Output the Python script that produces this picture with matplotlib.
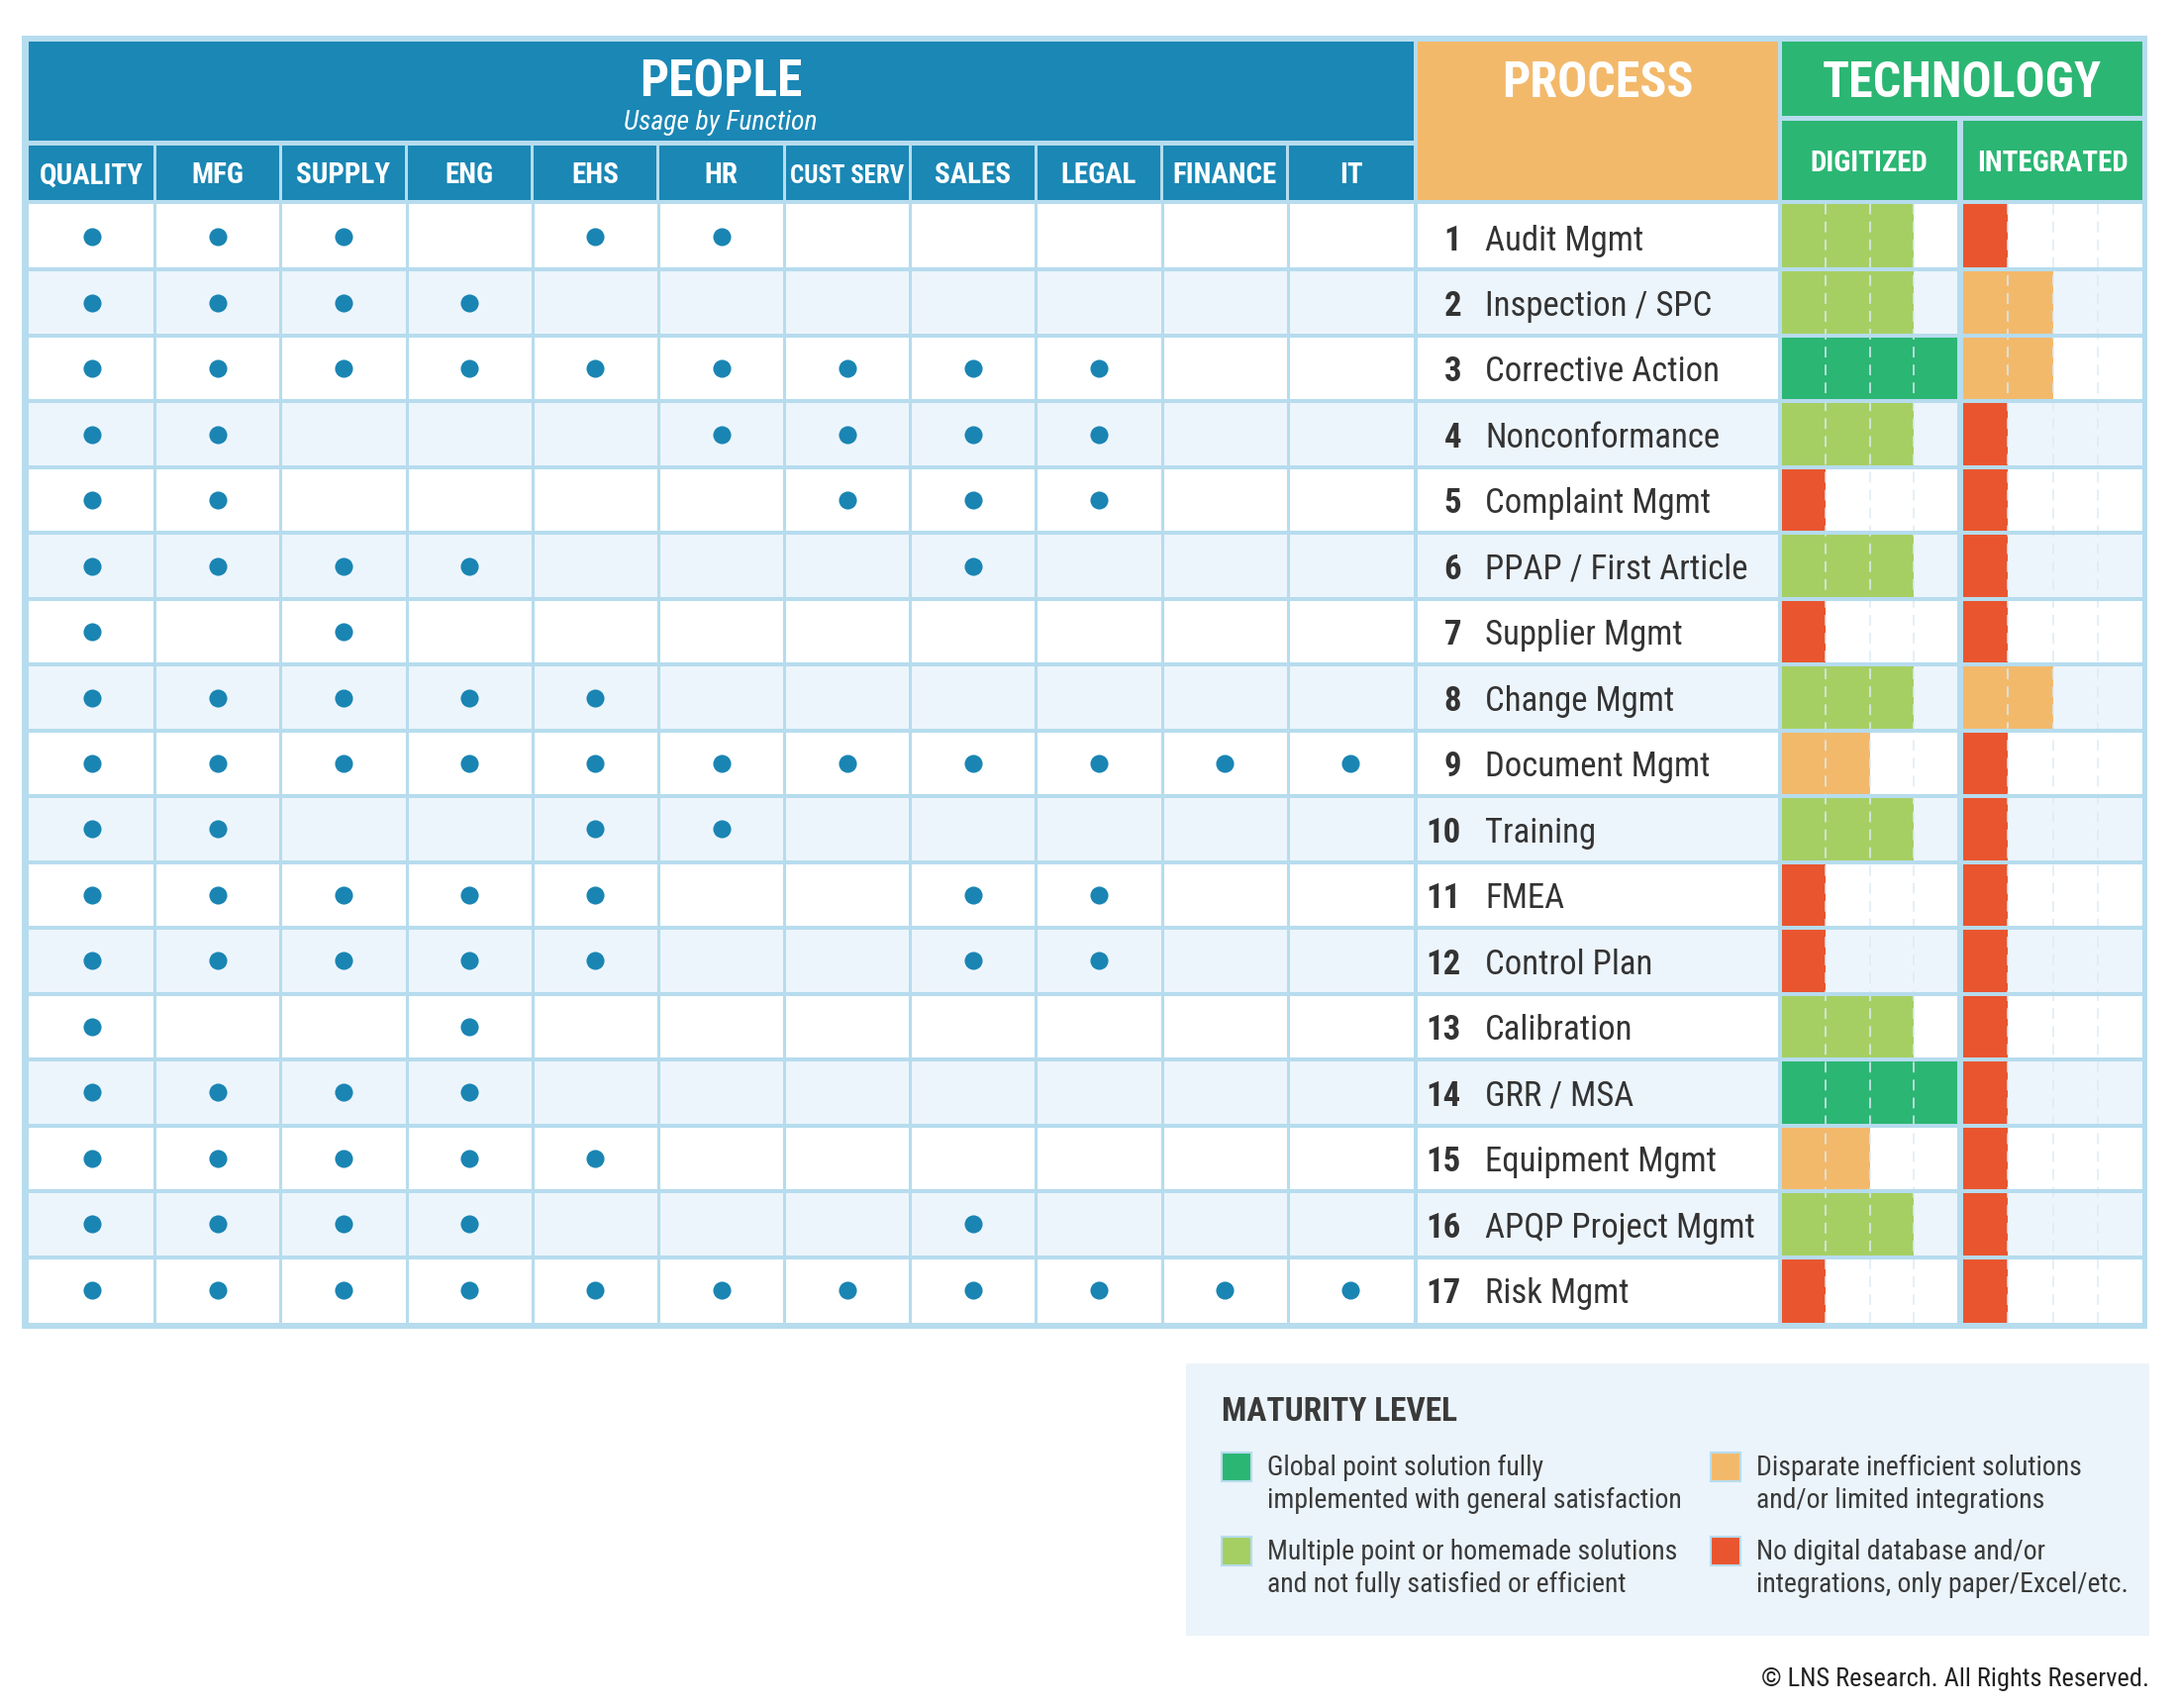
import os
import matplotlib
matplotlib.use('Agg')
import matplotlib.pyplot as plt
from matplotlib.patches import Rectangle
from matplotlib import font_manager as fm

# ====================== Data ======================
functions = ['QUALITY', 'MFG', 'SUPPLY', 'ENG', 'EHS', 'HR', 'CUST SERV', 'SALES', 'LEGAL', 'FINANCE', 'IT']
processes = ['Audit Mgmt', 'Inspection / SPC', 'Corrective Action', 'Nonconformance', 'Complaint Mgmt',
             'PPAP / First Article', 'Supplier Mgmt', 'Change Mgmt', 'Document Mgmt', 'Training', 'FMEA',
             'Control Plan', 'Calibration', 'GRR / MSA', 'Equipment Mgmt', 'APQP Project Mgmt', 'Risk Mgmt']
# 1 = function uses the process (dot)
usage = [
    [1, 1, 1, 0, 1, 1, 0, 0, 0, 0, 0],
    [1, 1, 1, 1, 0, 0, 0, 0, 0, 0, 0],
    [1, 1, 1, 1, 1, 1, 1, 1, 1, 0, 0],
    [1, 1, 0, 0, 0, 1, 1, 1, 1, 0, 0],
    [1, 1, 0, 0, 0, 0, 1, 1, 1, 0, 0],
    [1, 1, 1, 1, 0, 0, 0, 1, 0, 0, 0],
    [1, 0, 1, 0, 0, 0, 0, 0, 0, 0, 0],
    [1, 1, 1, 1, 1, 0, 0, 0, 0, 0, 0],
    [1, 1, 1, 1, 1, 1, 1, 1, 1, 1, 1],
    [1, 1, 0, 0, 1, 1, 0, 0, 0, 0, 0],
    [1, 1, 1, 1, 1, 0, 0, 1, 1, 0, 0],
    [1, 1, 1, 1, 1, 0, 0, 1, 1, 0, 0],
    [1, 0, 0, 1, 0, 0, 0, 0, 0, 0, 0],
    [1, 1, 1, 1, 0, 0, 0, 0, 0, 0, 0],
    [1, 1, 1, 1, 1, 0, 0, 0, 0, 0, 0],
    [1, 1, 1, 1, 0, 0, 0, 1, 0, 0, 0],
    [1, 1, 1, 1, 1, 1, 1, 1, 1, 1, 1],
]
# maturity level 1..4
digitized = [3, 3, 4, 3, 1, 3, 1, 3, 2, 3, 1, 1, 3, 4, 2, 3, 1]
integrated = [1, 2, 2, 1, 1, 1, 1, 2, 1, 1, 1, 1, 1, 1, 1, 1, 1]

legend_levels = [4, 2, 3, 1]
legend_labels = ['Global point solution fully\nimplemented with general satisfaction',
                 'Disparate inefficient solutions\nand/or limited integrations',
                 'Multiple point or homemade solutions\nand not fully satisfied or efficient',
                 'No digital database and/or\nintegrations, only paper/Excel/etc.']

# ====================== Style ======================
BLUE = '#1a87b5'
ORANGE = '#f3b96b'
GREEN = '#2bb673'
FRAME = '#b6dcee'
ROW_ALT = '#edf5fc'
DOT = '#1a85b3'
TEXT = '#333333'
level_colors = {1: '#e9552f', 2: '#f3b96b', 3: '#a6cf63', 4: '#2bb673'}

FAMILY_KEYS = ['robotocondensed', 'notosanscondensed', 'opensanscondensed',
               'liberationsansnarrow', 'dejavusanscondensed']


def weight_num(w):
    return w if isinstance(w, int) else fm.weight_dict.get(w, 400)


def pick_font(weight, style='normal'):
    # first condensed family found, closest weight
    for key in FAMILY_KEYS:
        found = []
        for f in fm.fontManager.ttflist:
            b = os.path.basename(f.fname).lower().replace('-', '').replace('_', '')
            if key in b and 'extra' not in b and 'semi' not in b:
                found.append((f.style != style, abs(weight_num(f.weight) - weight), f.fname))
        if found:
            return fm.FontProperties(fname=min(found)[2])
    return fm.FontProperties(family='DejaVu Sans', weight=weight, style=style)


F_BOLD = pick_font(700)
F_REG = pick_font(400)
F_ITAL = pick_font(400, 'italic')

W, H = 2200, 1725
fig = plt.figure(figsize=(22, 17.25), dpi=100)
base = fig.add_axes([0, 0, 1, 1])
base.set_xlim(0, W)
base.set_ylim(H, 0)
base.axis('off')


def place(x0, x1, y0, y1):
    ax = fig.add_axes([x0 / W, 1 - y1 / H, (x1 - x0) / W, (y1 - y0) / H])
    ax.axis('off')
    return ax


def txt(ax, x, y, s, size, font, **kw):
    kw.setdefault('color', 'white')
    kw.setdefault('ha', 'center')
    kw.setdefault('va', 'baseline')
    fp = font.copy()
    fp.set_size(size)
    ax.text(x, y, s, fontproperties=fp, **kw)


# ====================== Headers ======================
base.add_patch(Rectangle((22, 36), 2147, 1306, fc=FRAME, ec='none'))
base.add_patch(Rectangle((29, 42), 1399, 100, fc=BLUE, ec='none'))
txt(base, 728, 97, 'PEOPLE', 37, F_BOLD)
txt(base, 728, 131, 'Usage by Function', 20, F_ITAL)

col_w = (1428 - 29) / len(functions)
for k, name in enumerate(functions):
    x0 = 29 + k * col_w + (1.5 if k > 0 else 0)
    x1 = 29 + (k + 1) * col_w - (1.5 if k < len(functions) - 1 else 0)
    base.add_patch(Rectangle((x0, 147), x1 - x0, 55, fc=BLUE, ec='none'))
    txt(base, (x0 + x1) / 2, 185, name, 18 if len(name) > 8 else 21, F_BOLD)

base.add_patch(Rectangle((1432, 42), 364, 160, fc=ORANGE, ec='none'))
txt(base, 1614, 98, 'PROCESS', 36, F_BOLD)
base.add_patch(Rectangle((1800, 42), 364, 75, fc=GREEN, ec='none'))
txt(base, 1982, 98, 'TECHNOLOGY', 36, F_BOLD)
base.add_patch(Rectangle((1800, 122), 177, 80, fc=GREEN, ec='none'))
txt(base, 1888, 173, 'DIGITIZED', 21, F_BOLD)
base.add_patch(Rectangle((1983, 122), 181, 80, fc=GREEN, ec='none'))
txt(base, 2073.5, 173, 'INTEGRATED', 21, F_BOLD)

# ====================== Rows ======================
n = len(processes)
rows = list(range(n))
Y0, Y1 = 206, 1336


def rows_bg(ax):
    for i in rows:
        ax.axhspan(i - 0.5, i + 0.5, color=ROW_ALT if i % 2 else 'white', lw=0, zorder=0)
    for i in rows[:-1]:
        ax.axhline(i + 0.5, color=FRAME, lw=2.9, zorder=5)
    ax.set_ylim(n - 0.5, -0.5)


# People dots
ax_p = place(29, 1428, Y0, Y1)
rows_bg(ax_p)
for k in range(len(functions) - 1):
    ax_p.axvline(k + 0.5, color=FRAME, lw=2.2, zorder=5)
xs = [c for r in rows for c in range(len(functions)) if usage[r][c]]
ys = [r for r in rows for c in range(len(functions)) if usage[r][c]]
ax_p.scatter(xs, ys, s=170, color=DOT, lw=0, zorder=6)
ax_p.set_xlim(-0.5, len(functions) - 0.5)

# Process labels
ax_t = place(1432, 1796, Y0, Y1)
rows_bg(ax_t)
ax_t.set_xlim(0, 364)
for i, name in enumerate(processes):
    txt(ax_t, 44, i + 0.2, str(i + 1), 25, F_BOLD, color=TEXT, ha='right')
    txt(ax_t, 68, i + 0.2, name, 25, F_REG, color=TEXT, ha='left')

# Technology bars
for (x0, x1), vals in [((1800, 1977), digitized), ((1983, 2164), integrated)]:
    ax = place(x0, x1, Y0, Y1)
    rows_bg(ax)
    ax.barh(rows, vals, height=1.0, left=0, color=[level_colors[v] for v in vals], lw=0, zorder=2)
    for g in (1, 2, 3):
        ax.axvline(g, color='#dcebf5', lw=1.3, ls=(0, (6, 4)), alpha=0.85, zorder=3)
    ax.set_xlim(0, 4)

# ====================== Legend ======================
base.add_patch(Rectangle((1198, 1377), 973, 275, fc='#ebf4fa', ec='none'))
txt(base, 1234, 1435, 'MATURITY LEVEL', 24, F_BOLD, color='#3a3a3a', ha='left')
for j, (lvl, label) in enumerate(zip(legend_levels, legend_labels)):
    sx = 1234 if j % 2 == 0 else 1728
    sy = 1467 if j < 2 else 1552
    base.add_patch(Rectangle((sx, sy), 30, 29, fc=level_colors[lvl], ec=FRAME, lw=1.5))
    for m, line in enumerate(label.split('\n')):
        txt(base, sx + 46, sy + 23 + m * 33, line, 20, F_REG, color='#3a3a3a', ha='left')

txt(base, 2171, 1703, '\u00a9 LNS Research. All Rights Reserved.', 19, F_REG, color='#222222', ha='right')

fig.savefig('out.png', dpi=100)
